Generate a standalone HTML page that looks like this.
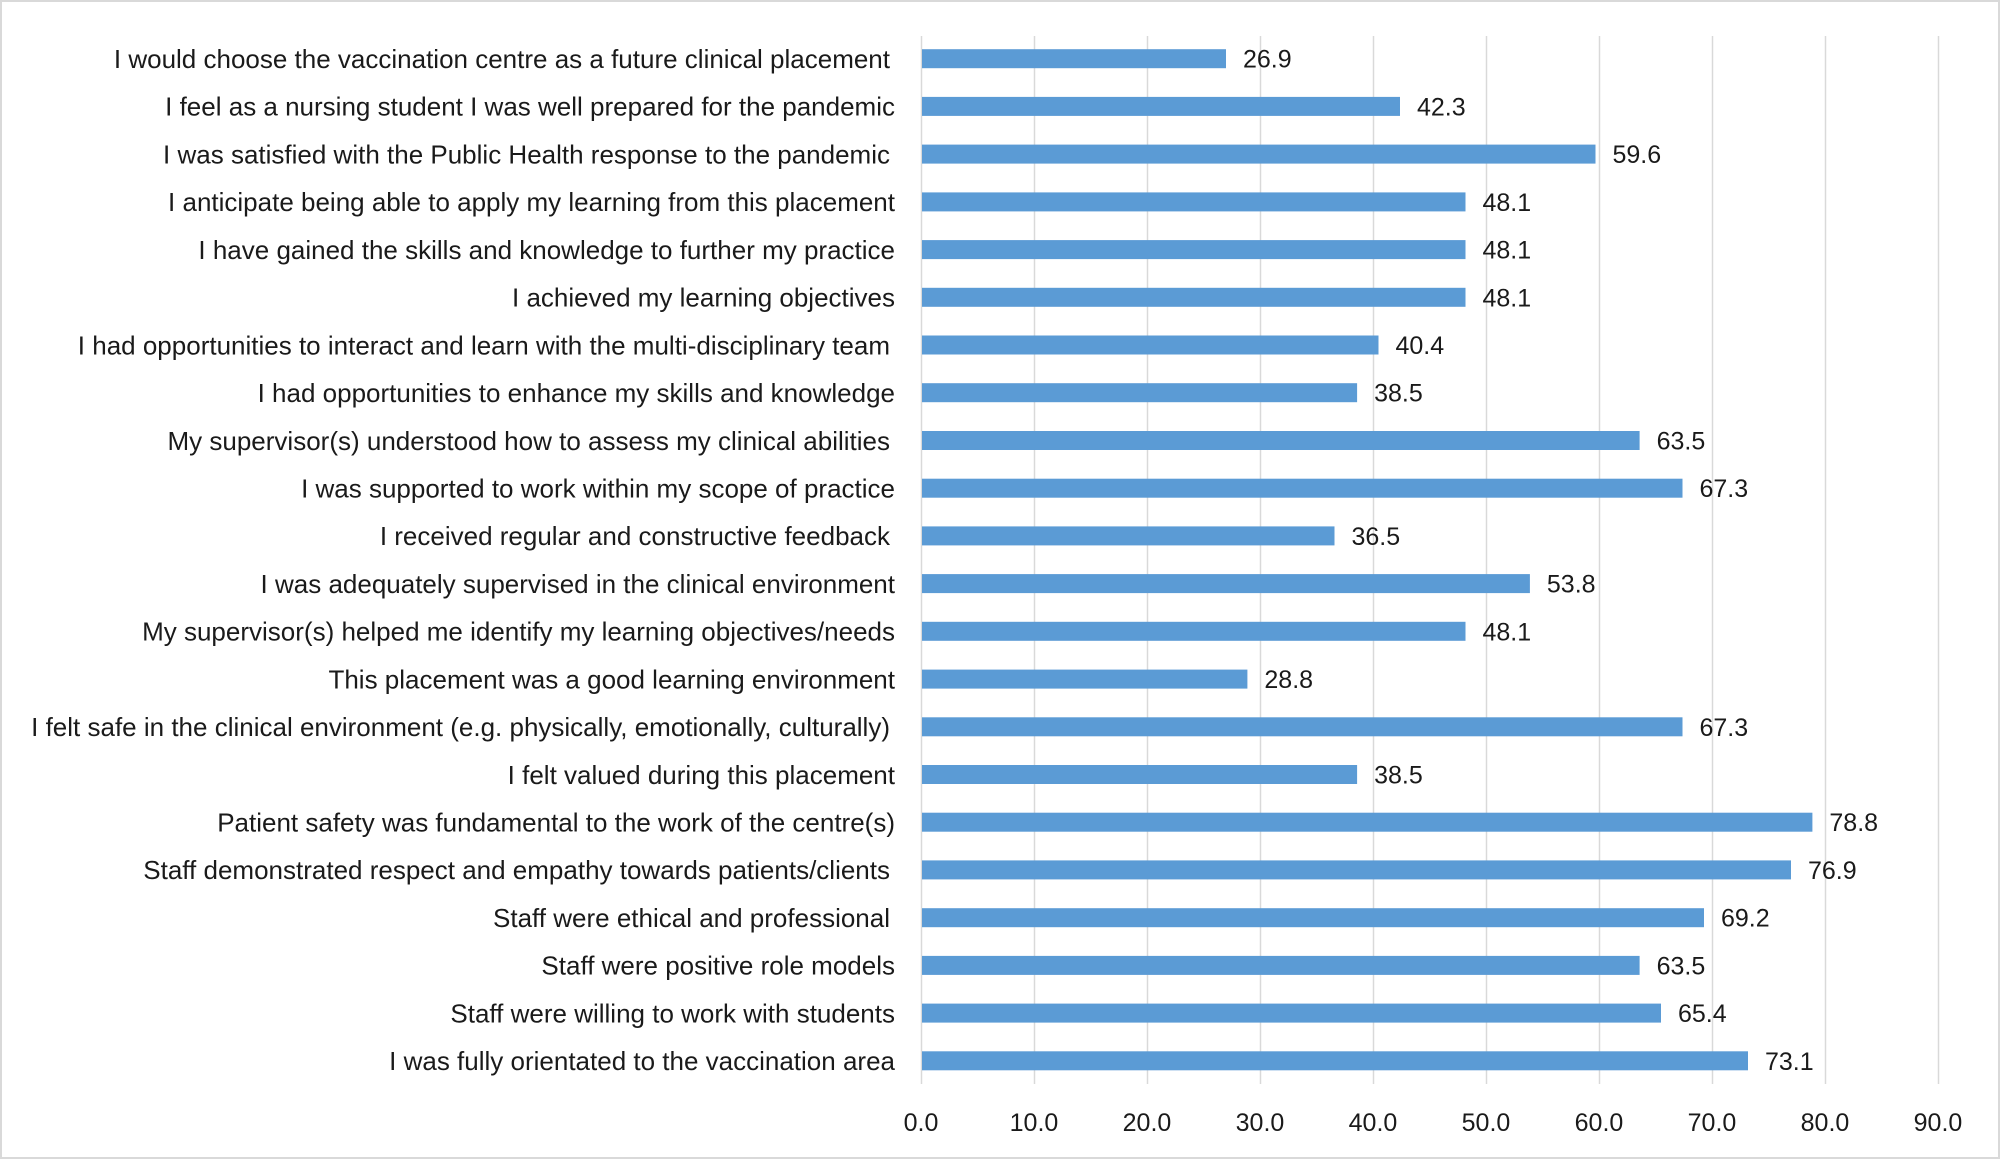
<!DOCTYPE html>
<html><head><meta charset="utf-8"><style>
html,body{margin:0;padding:0;background:#fff}
svg{display:block}
text{font-family:"Liberation Sans",sans-serif;font-size:25px;fill:#1a1a1a}
.l text{font-size:26px}
</style></head><body>
<svg width="2000" height="1160" viewBox="0 0 2000 1160" xmlns="http://www.w3.org/2000/svg">
<rect x="1" y="1" width="1998" height="1157" fill="#fff" stroke="#d9d9d9" stroke-width="2"/>
<g stroke="#d9d9d9" stroke-width="1.5">
<line x1="921.5" y1="36" x2="921.5" y2="1084"/>
<line x1="1034.5" y1="36" x2="1034.5" y2="1084"/>
<line x1="1147.5" y1="36" x2="1147.5" y2="1084"/>
<line x1="1260.5" y1="36" x2="1260.5" y2="1084"/>
<line x1="1373.5" y1="36" x2="1373.5" y2="1084"/>
<line x1="1486.5" y1="36" x2="1486.5" y2="1084"/>
<line x1="1599.5" y1="36" x2="1599.5" y2="1084"/>
<line x1="1712.5" y1="36" x2="1712.5" y2="1084"/>
<line x1="1825.5" y1="36" x2="1825.5" y2="1084"/>
<line x1="1938.5" y1="36" x2="1938.5" y2="1084"/>
</g>
<g text-anchor="middle">
<text x="921" y="1131">0.0</text><text x="1034" y="1131">10.0</text><text x="1147" y="1131">20.0</text><text x="1260" y="1131">30.0</text><text x="1373" y="1131">40.0</text><text x="1486" y="1131">50.0</text><text x="1599" y="1131">60.0</text><text x="1712" y="1131">70.0</text><text x="1825" y="1131">80.0</text><text x="1938" y="1131">90.0</text>
</g>
<g fill="#5b9bd5">
<rect x="922" y="49.2" width="304.0" height="19"/>
<rect x="922" y="96.9" width="478.0" height="19"/>
<rect x="922" y="144.6" width="673.5" height="19"/>
<rect x="922" y="192.4" width="543.5" height="19"/>
<rect x="922" y="240.1" width="543.5" height="19"/>
<rect x="922" y="287.8" width="543.5" height="19"/>
<rect x="922" y="335.5" width="456.5" height="19"/>
<rect x="922" y="383.2" width="435.1" height="19"/>
<rect x="922" y="431.0" width="717.6" height="19"/>
<rect x="922" y="478.7" width="760.5" height="19"/>
<rect x="922" y="526.4" width="412.5" height="19"/>
<rect x="922" y="574.1" width="607.9" height="19"/>
<rect x="922" y="621.8" width="543.5" height="19"/>
<rect x="922" y="669.6" width="325.4" height="19"/>
<rect x="922" y="717.3" width="760.5" height="19"/>
<rect x="922" y="765.0" width="435.1" height="19"/>
<rect x="922" y="812.7" width="890.4" height="19"/>
<rect x="922" y="860.4" width="869.0" height="19"/>
<rect x="922" y="908.2" width="782.0" height="19"/>
<rect x="922" y="955.9" width="717.6" height="19"/>
<rect x="922" y="1003.6" width="739.0" height="19"/>
<rect x="922" y="1051.3" width="826.0" height="19"/>
</g>
<g class="l" transform="translate(895,0)" text-anchor="end">
<text x="-5" y="68">I would choose the vaccination centre as a future clinical placement</text>
<text x="0" y="115.7">I feel as a nursing student I was well prepared for the pandemic</text>
<text x="-5" y="163.4">I was satisfied with the Public Health response to the pandemic</text>
<text x="0" y="211.2">I anticipate being able to apply my learning from this placement</text>
<text x="0" y="258.9">I have gained the skills and knowledge to further my practice</text>
<text x="0" y="306.6">I achieved my learning objectives</text>
<text x="-5" y="354.3">I had opportunities to interact and learn with the multi-disciplinary team</text>
<text x="0" y="402">I had opportunities to enhance my skills and knowledge</text>
<text x="-5" y="449.8">My supervisor(s) understood how to assess my clinical abilities</text>
<text x="0" y="497.5">I was supported to work within my scope of practice</text>
<text x="-5" y="545.2">I received regular and constructive feedback</text>
<text x="0" y="592.9">I was adequately supervised in the clinical environment</text>
<text x="0" y="640.6">My supervisor(s) helped me identify my learning objectives/needs</text>
<text x="0" y="688.4">This placement was a good learning environment</text>
<text x="-5" y="736.1">I felt safe in the clinical environment (e.g. physically, emotionally, culturally)</text>
<text x="0" y="783.8">I felt valued during this placement</text>
<text x="0" y="831.5">Patient safety was fundamental to the work of the centre(s)</text>
<text x="-5" y="879.2">Staff demonstrated respect and empathy towards patients/clients</text>
<text x="-5" y="927">Staff were ethical and professional</text>
<text x="0" y="974.7">Staff were positive role models</text>
<text x="0" y="1022.4">Staff were willing to work with students</text>
<text x="0" y="1070.1">I was fully orientated to the vaccination area</text>
</g>
<g>
<text x="1243.0" y="67.7">26.9</text>
<text x="1417.0" y="115.4">42.3</text>
<text x="1612.5" y="163.1">59.6</text>
<text x="1482.5" y="210.9">48.1</text>
<text x="1482.5" y="258.6">48.1</text>
<text x="1482.5" y="306.3">48.1</text>
<text x="1395.5" y="354.0">40.4</text>
<text x="1374.1" y="401.7">38.5</text>
<text x="1656.6" y="449.5">63.5</text>
<text x="1699.5" y="497.2">67.3</text>
<text x="1351.5" y="544.9">36.5</text>
<text x="1546.9" y="592.6">53.8</text>
<text x="1482.5" y="640.3">48.1</text>
<text x="1264.4" y="688.1">28.8</text>
<text x="1699.5" y="735.8">67.3</text>
<text x="1374.1" y="783.5">38.5</text>
<text x="1829.4" y="831.2">78.8</text>
<text x="1808.0" y="878.9">76.9</text>
<text x="1721.0" y="926.7">69.2</text>
<text x="1656.6" y="974.4">63.5</text>
<text x="1678.0" y="1022.1">65.4</text>
<text x="1765.0" y="1069.8">73.1</text>
</g>
</svg>
</body></html>
